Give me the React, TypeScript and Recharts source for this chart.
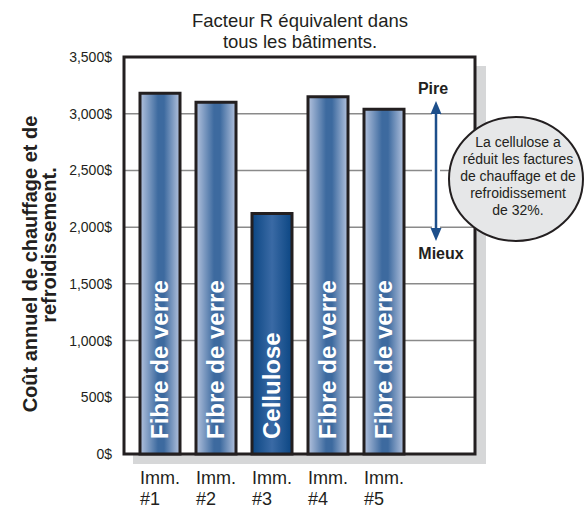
import { BarChart, Bar, XAxis, YAxis, CartesianGrid, Cell, LabelList, Customized } from "recharts";

const categories = ["Imm. #1", "Imm. #2", "Imm. #3", "Imm. #4", "Imm. #5"];
const costs = [3180, 3100, 2120, 3150, 3040];
const materials = ["Fibre de verre", "Fibre de verre", "Cellulose", "Fibre de verre", "Fibre de verre"];
const yTicks = [0, 500, 1000, 1500, 2000, 2500, 3000, 3500];
const titleLines = ["Facteur R équivalent dans", "tous les bâtiments."];
const yLabelLines = ["Coût annuel de chauffage et de", "refroidissement."];
const calloutLines = ["La cellulose a", "réduit les factures", "de chauffage et de", "refroidissement", "de 32%."];

const data = categories.map((name, i) => ({ name, cost: costs[i], material: materials[i] }));

const NARROW = "'Liberation Sans Narrow', 'Arial Narrow', 'Liberation Sans', sans-serif";
const BOLD = "'Liberation Sans', Arial, sans-serif";
const INK = "#231f20";
const ARROW = "#1d4f8b";

// plot area (matches chart margins below)
const PX = 124;
const PY = 57;
const PW = 351;
const PH = 397;

const XTick = (props: any) => {
  const { x, y, payload } = props;
  const [a, b] = String(payload.value).split(" ");
  return (
    <g fontFamily={NARROW} fontSize={18} fill={INK}>
      <text x={x - 20} y={y + 22} textAnchor="start" fill={INK}>{a}</text>
      <text x={x - 20} y={y + 43} textAnchor="start" fill={INK}>{b}</text>
    </g>
  );
};

const YTick = (props: any) => {
  const { y, payload } = props;
  return (
    <text x={112} y={y + 5} textAnchor="end" fontFamily={NARROW} fontSize={14} fill={INK}>
      {payload.value.toLocaleString("en-US")}$
    </text>
  );
};

const BarText = (props: any) => {
  const vb = props.viewBox ?? props;
  const { x, y, width, height } = vb;
  const tx = x + width / 2 + 8;
  const ty = y + height - 15;
  return (
    <text
      x={tx}
      y={ty}
      transform={`rotate(-90, ${tx}, ${ty})`}
      fontFamily={BOLD}
      fontWeight="bold"
      fontSize={24}
      fill="#fff"
      textAnchor="start"
    >
      {props.value}
    </text>
  );
};

const Decor = () => (
  <g>
    {/* drop shadow */}
    <rect x={PX + PW + 1} y={PY + 9} width={10} height={PH + 1} fill="#d6d7d8" />
    <rect x={PX + 9} y={PY + PH + 1} width={PW - 8} height={9} fill="#d6d7d8" />
    {/* frame */}
    <rect x={PX} y={PY} width={PW} height={PH} fill="none" stroke={INK} strokeWidth={3} />
    {/* arrow */}
    <line x1={436} y1={110} x2={436} y2={232} stroke="#fff" strokeWidth={8} />
    <line x1={436} y1={110} x2={436} y2={232} stroke={ARROW} strokeWidth={2.5} />
    <polygon points="436,101 430.5,114 441.5,114" fill={ARROW} />
    <polygon points="436,241 430.5,228 441.5,228" fill={ARROW} />
    <text x={433} y={94} textAnchor="middle" fontFamily={BOLD} fontWeight="bold" fontSize={16} fill={INK}>Pire</text>
    <text x={441} y={259} textAnchor="middle" fontFamily={BOLD} fontWeight="bold" fontSize={16} fill={INK}>Mieux</text>
    {/* callout */}
    <ellipse cx={516} cy={179} rx={67} ry={62} fill="#e6e7e8" stroke={INK} strokeWidth={2} />
    {calloutLines.map((t, i) => (
      <text key={i} x={518} y={147 + i * 17} textAnchor="middle" fontFamily={NARROW} fontSize={14} fill={INK}>
        {t}
      </text>
    ))}
    {/* title */}
    {titleLines.map((t, i) => (
      <text key={i} x={300} y={27 + i * 21} textAnchor="middle" fontFamily={NARROW} fontSize={18.5} fill={INK}>
        {t}
      </text>
    ))}
    {/* y axis label */}
    <text
      transform="translate(37, 264) rotate(-90)"
      textAnchor="middle"
      fontFamily={BOLD}
      fontWeight="bold"
      fontSize={20}
      fill={INK}
    >
      {yLabelLines[0]}
    </text>
    <text
      transform="translate(56, 245) rotate(-90)"
      textAnchor="middle"
      fontFamily={BOLD}
      fontWeight="bold"
      fontSize={20}
      fill={INK}
    >
      {yLabelLines[1]}
    </text>
  </g>
);

export default function App() {
  return (
    <div style={{ position: "absolute", left: 0, top: 0, width: 584, height: 508, background: "#fff" }}>
      <svg width={0} height={0} style={{ position: "absolute" }}>
        <defs>
          <linearGradient id="gradFibre" x1="0" y1="0" x2="1" y2="0">
            <stop offset="0%" stopColor="#b4c3de" />
            <stop offset="45%" stopColor="#3d6a9f" />
            <stop offset="60%" stopColor="#3d6a9f" />
            <stop offset="100%" stopColor="#b4c3de" />
          </linearGradient>
          <linearGradient id="gradCell" x1="0" y1="0" x2="1" y2="0">
            <stop offset="0%" stopColor="#0b4683" />
            <stop offset="50%" stopColor="#3a6aa5" />
            <stop offset="100%" stopColor="#0b4683" />
          </linearGradient>
        </defs>
      </svg>
      <BarChart
        width={584}
        height={508}
        data={data}
        margin={{ top: PY, right: 584 - PX - PW, bottom: 0, left: 0 }}
        barSize={40}
      >
        <CartesianGrid vertical={false} stroke="#8a8a8a" strokeWidth={1.5} />
        <XAxis
          dataKey="name"
          height={508 - PY - PH}
          axisLine={false}
          tickLine={false}
          padding={{ left: 8, right: 63 }}
          tick={<XTick />}
          interval={0}
        />
        <YAxis
          width={PX}
          domain={[0, 3500]}
          ticks={yTicks}
          axisLine={false}
          tickLine={false}
          tick={<YTick />}
        />
        <Bar dataKey="cost" stroke={INK} strokeWidth={3} isAnimationActive={false}>
          {data.map((d, i) => (
            <Cell key={i} fill={d.material === "Cellulose" ? "url(#gradCell)" : "url(#gradFibre)"} />
          ))}
          <LabelList dataKey="material" content={<BarText />} />
        </Bar>
        <Customized component={<Decor />} />
      </BarChart>
    </div>
  );
}
